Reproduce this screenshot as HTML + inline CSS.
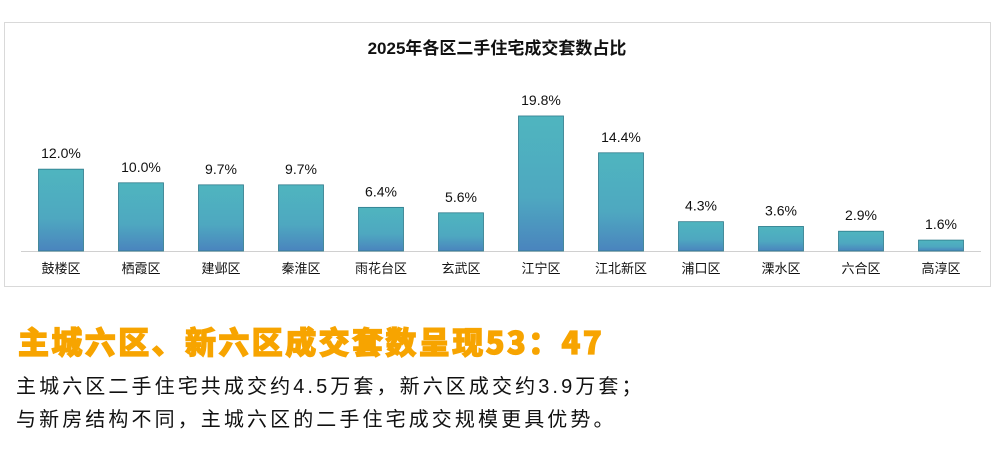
<!DOCTYPE html>
<html><head><meta charset="utf-8"><style>
body{margin:0;width:995px;height:455px;background:#fff;overflow:hidden;font-family:"Liberation Sans","Noto Sans CJK SC",sans-serif;}
.h{position:absolute;left:18px;top:318px;font-size:31px;font-weight:900;color:#f7a400;letter-spacing:2.4px;-webkit-text-stroke:1.2px #f7a400;font-family:"Noto Sans CJK SC","WenQuanYi Zen Hei",sans-serif;}
.t{position:absolute;left:16px;font-size:20px;color:#111;letter-spacing:3.1px;font-family:"Liberation Sans","Noto Sans CJK SC",sans-serif;}
</style></head><body>
<svg id="chart-svg" width="995" height="300" style="position:absolute;left:0;top:0">
<defs><linearGradient id="g" x1="0" y1="0" x2="0" y2="1"><stop offset="0" stop-color="#4fb5bf"/><stop offset="0.6" stop-color="#4ea8c0"/><stop offset="1" stop-color="#4a84be"/></linearGradient></defs>
<rect x="4.5" y="22.5" width="986" height="264" fill="#fff" stroke="#d9d9d9"/>
<text x="497" y="54" text-anchor="middle" font-size="17" font-weight="bold" fill="#111" font-family="Liberation Sans,Noto Sans CJK SC,sans-serif">2025年各区二手住宅成交套数占比</text>
<line x1="21" y1="251.5" x2="981" y2="251.5" stroke="#d0d0d0"/>
<g id="bars"></g>
</svg>
<div class="h">主城六区、新六区成交套数呈现53：47</div>
<div class="t" style="top:370px">主城六区二手住宅共成交约4.5万套，新六区成交约3.9万套；</div>
<div class="t" style="top:403px">与新房结构不同，主城六区的二手住宅成交规模更具优势。</div>
<script>
const categories=["鼓楼区","栖霞区","建邺区","秦淮区","雨花台区","玄武区","江宁区","江北新区","浦口区","溧水区","六合区","高淳区"];
const values=[12.0,10.0,9.7,9.7,6.4,5.6,19.8,14.4,4.3,3.6,2.9,1.6];
const baseY=251, pxPer=6.82, x0=21, step=80, bw=45;
function xC(i){return x0+step*i+step/2;}
function yV(v){return baseY-v*pxPer;}
const g=document.getElementById('bars');const ns="http://www.w3.org/2000/svg";
categories.forEach((c,i)=>{
 const r=document.createElementNS(ns,'rect');
 
 
 r.setAttribute('x',xC(i)-bw/2);r.setAttribute('y',yV(values[i]));r.setAttribute('width',bw);r.setAttribute('height',baseY-yV(values[i]));
 r.setAttribute('fill','url(#g)');r.setAttribute('stroke','#2f7a8a');r.setAttribute('stroke-width','0.8');g.appendChild(r);
 const t=document.createElementNS(ns,'text');
 
 
 t.setAttribute('x',xC(i));t.setAttribute('y',yV(values[i])-11);t.setAttribute('text-anchor','middle');t.setAttribute('font-size','14');t.setAttribute('fill','#111');t.setAttribute('font-family','Liberation Sans,sans-serif');
 t.textContent=values[i].toFixed(1)+'%';g.appendChild(t);
 const l=document.createElementNS(ns,'text');
 
 
 l.setAttribute('x',xC(i));l.setAttribute('y',273);l.setAttribute('text-anchor','middle');l.setAttribute('font-size','13');l.setAttribute('fill','#111');l.setAttribute('font-family','Liberation Sans,Noto Sans CJK SC,sans-serif');
 l.textContent=c;g.appendChild(l);
});
</script>
</body></html>
